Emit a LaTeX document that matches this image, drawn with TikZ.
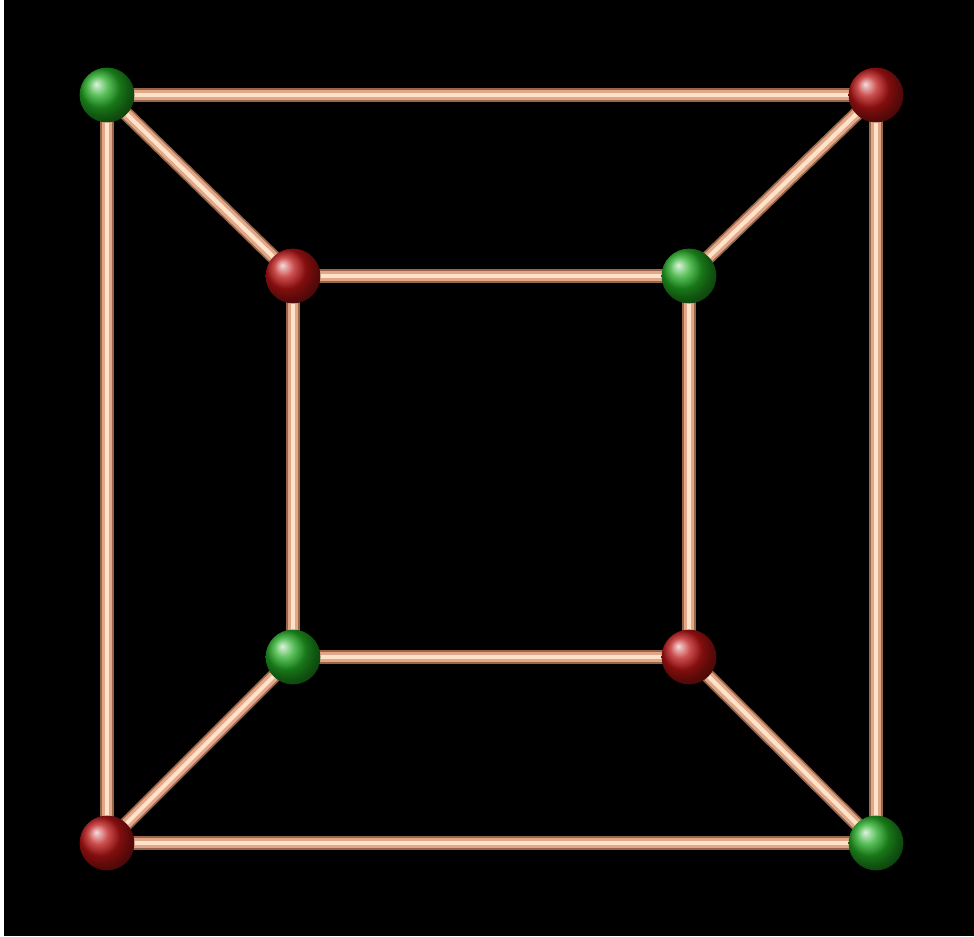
\documentclass[tikz,border=0pt]{standalone}
\usepackage{xcolor}
\definecolor{bgcolor}{HTML}{000000}
\definecolor{rodedge}{HTML}{9A6648}
\definecolor{rodmid}{HTML}{E0A888}
\definecolor{rodhigh}{HTML}{FFE2CA}
\definecolor{greencolor}{HTML}{22AA22}
\definecolor{redcolor}{HTML}{BB1414}
\usepackage{tikz}
\usetikzlibrary{calc}

\tikzset{
  rodbase/.style={draw=rodedge, line width=10pt},
  rodbody/.style={draw=rodmid, line width=7.5pt},
  rodlight/.style={draw=rodhigh, line width=3pt},
  vertex/.style={circle, inner sep=0pt, minimum size=1.37cm, shading=ball},
}

\begin{document}
\begin{tikzpicture}[x=0.025cm, y=-0.025cm]
  % background, with the thin light strip on the left
  \fill[bgcolor] (0,0) rectangle (974,936);
  \fill[white] (0,0) rectangle (4,936);

  % corner points
  \foreach \name/\x/\y in {
    o1/107/95, o2/876/95, o3/876/843, o4/107/843,
    i1/293/276, i2/689/276, i3/689/657, i4/293/657%
  } {
    \coordinate (\name) at (\x,\y);
  }

  % rods
  \foreach \a/\b in {o1/o2, o2/o3, o3/o4, o4/o1,
                     i1/i2, i2/i3, i3/i4, i4/i1,
                     o1/i1, o2/i2, o3/i3, o4/i4} {
    \draw[rodbase] (\a) -- (\b);
    \draw[rodbody] (\a) -- (\b);
    \draw[rodlight] (\a) -- (\b);
  }

  % balls
  \foreach \name/\col in {
    o1/greencolor, o2/redcolor, o3/greencolor, o4/redcolor,
    i1/redcolor, i2/greencolor, i3/redcolor, i4/greencolor%
  } {
    \node[vertex, ball color=\col] (b-\name) at (\name) {};
  }
\end{tikzpicture}
\end{document}
